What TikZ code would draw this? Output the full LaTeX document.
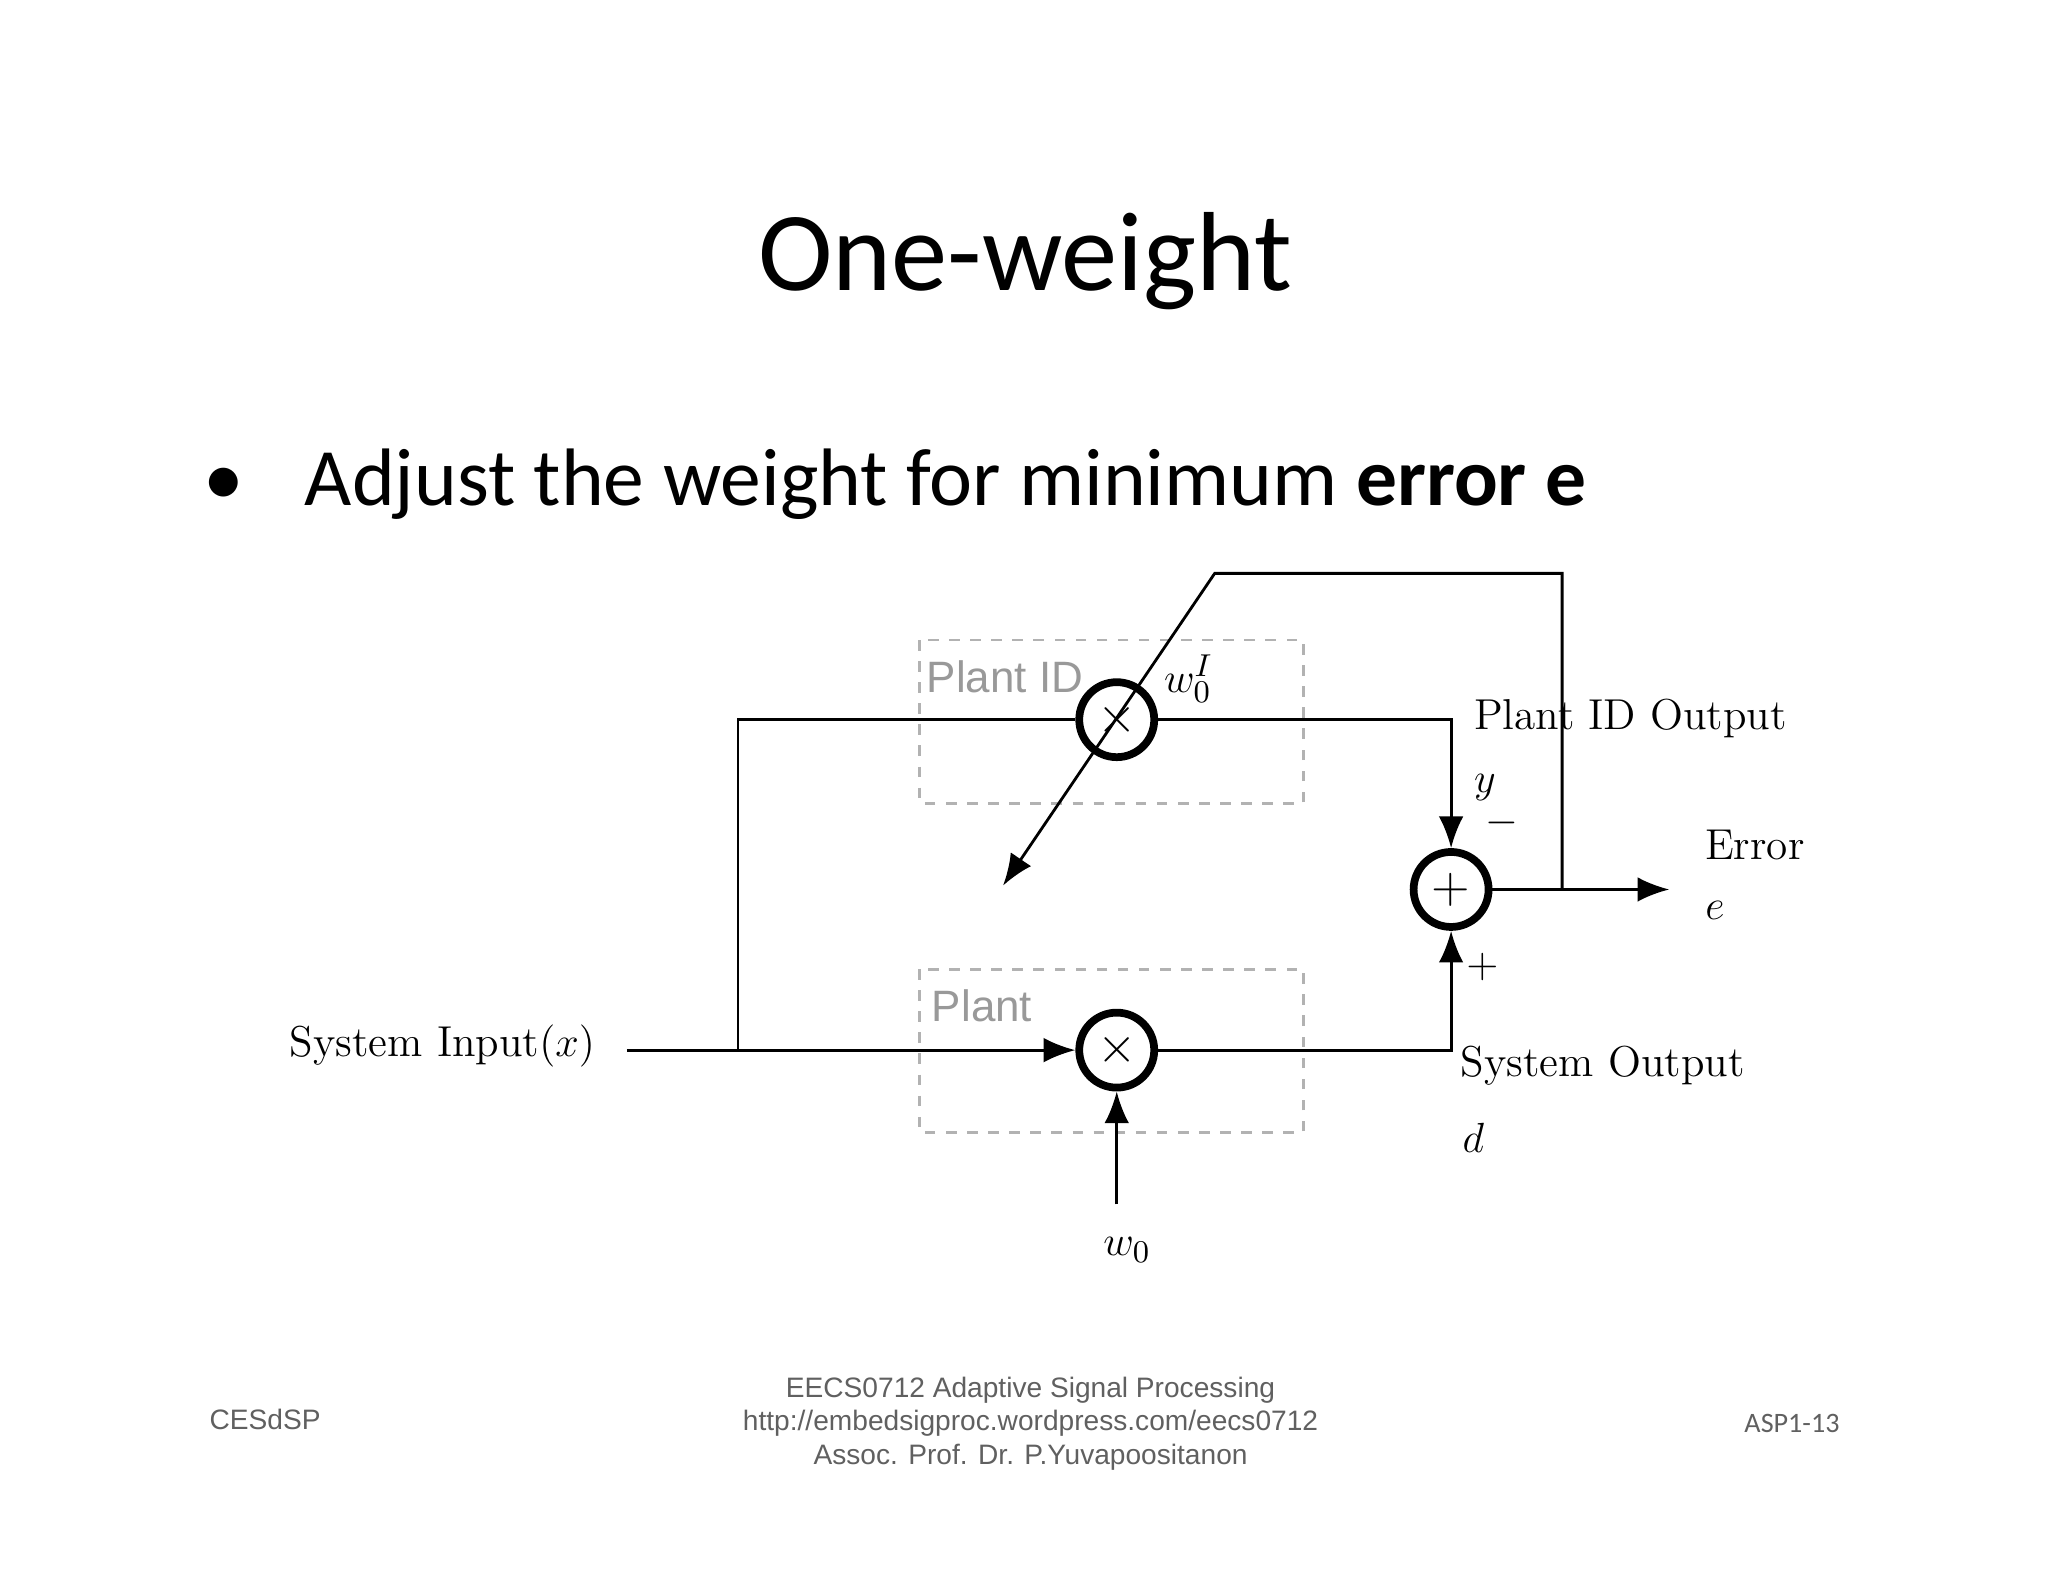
\documentclass[tikz,border=0pt]{standalone}
\usepackage{fontspec}
\newfontfamily\calfnt{Carlito}
\newfontfamily\arsfnt{Liberation Sans}
\usetikzlibrary{arrows.meta}
\begin{document}
\begin{tikzpicture}[x=0.01306cm,y=-0.01306cm,
  op/.style={circle,draw,line width=2.2pt,minimum size=0.75cm,inner sep=0pt,font=\Large},
  wire/.style={line width=0.8pt},
  arr/.style={wire,-{Latex[length=9pt,width=7pt]}},
  dbox/.style={draw=gray!60,dashed,line width=0.8pt},
  lbl/.style={font=\fontsize{12.3}{14}\selectfont,inner sep=0pt},
  glbl/.style={font=\arsfnt\fontsize{12.5}{14}\selectfont,text=gray!80,inner sep=0pt},
  foot/.style={font=\arsfnt\fontsize{8}{9.6}\selectfont,text=gray!75!black,align=center,inner sep=0pt}]
\useasboundingbox (0,0) rectangle (1568,1211);
\node (title) at (785,200) {\calfnt\fontsize{32}{36}\selectfont One-weight};
\node[anchor=base west,inner sep=0pt] (bul) at (155,387) {\calfnt\fontsize{23.2}{26}\selectfont •\hspace{0.75em}Adjust the weight for minimum \textbf{error e}};
\draw[dbox] (704,490) rectangle (998,615);
\draw[dbox] (704,742) rectangle (998,867);
\node[glbl,anchor=west] (pid) at (709,518) {Plant ID};
\node[glbl,anchor=west] (pl) at (713,770) {Plant};
\node[op] (m1) at (855,551) {$\times$};
\node[op] (m2) at (855,804) {$\times$};
\node[op] (s) at (1111,681) {$+$};
\node[lbl,anchor=east] (in) at (456,801) {System Input$(x)$};
\coordinate (inS) at (480,804);
\coordinate (br) at (565,804);
\coordinate (brT) at (565,551);
\coordinate (w0S) at (855,922);
\coordinate (out) at (1278,681);
\coordinate (fb) at (1196,681);
\coordinate (fb1) at (1196,439);
\coordinate (fb2) at (930,439);
\coordinate (fbE) at (768,678);
\draw[arr] (inS) -- (m2);
\draw[wire] (br) -- (brT) -- (m1);
\draw[arr] (m1) -| (s);
\draw[arr] (m2) -| (s);
\draw[arr] (s) -- (out);
\draw[arr] (w0S) -- (m2);
\draw[arr] (fb) -- (fb1) -- (fb2) -- (fbE);
\node[lbl] (w0) at (863,957) {$w_0$};
\node[lbl] (w0i) at (910,520) {$w_0^I$};
\node[lbl,anchor=west] (pido) at (1128,550) {Plant ID Output};
\node[lbl] (y) at (1137,603) {$y$};
\node[lbl] (mi) at (1150,630) {$-$};
\node[lbl,anchor=west] (err) at (1305,647) {Error};
\node[lbl] (e) at (1313,697) {$e$};
\node[lbl] (pl2) at (1135,740) {$+$};
\node[lbl,anchor=west] (so) at (1118,816) {System Output};
\node[lbl] (d) at (1128,871) {$d$};
\node[foot] (f1) at (203,1087) {CESdSP};
\node[foot] (f2) at (789,1090) {EECS0712 Adaptive Signal Processing\\http://embedsigproc.wordpress.com/eecs0712\\Assoc. Prof. Dr. P.Yuvapoositanon};
\node[foot] (f3) at (1372,1090) {\calfnt\fontsize{8}{9.6}\selectfont ASP1-13};
\end{tikzpicture}
\end{document}
